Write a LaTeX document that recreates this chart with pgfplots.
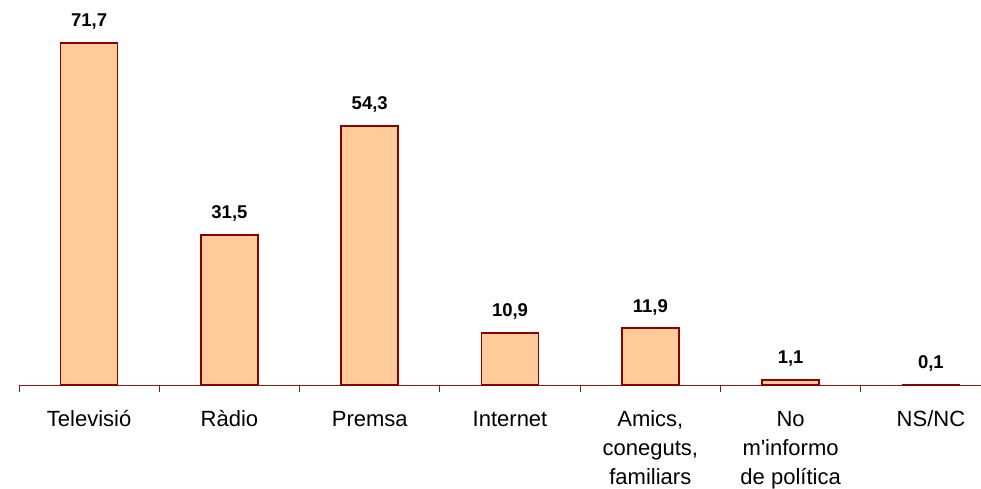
\documentclass[border=0pt]{standalone}
\usepackage{pgfplots}
\pgfplotsset{compat=1.18}
\usepackage{fontspec}
\setmainfont{Liberation Sans}
\definecolor{barfill}{HTML}{FFCC99}
\definecolor{barline}{HTML}{8B0000}
\definecolor{axisred}{HTML}{8B1A1A}
\begin{document}
\begin{tikzpicture}
\begin{axis}[
  scale only axis,
  width=962pt, height=385pt,
  xmin=-0.5, xmax=6.357,
  ymin=0, ymax=80.7,
  axis x line*=bottom,
  axis y line=none,
  x axis line style={axisred, line width=1pt},
  xtick={0,...,6},
  xticklabels={Televisió, Ràdio, Premsa, Internet, {Amics,\\coneguts,\\familiars}, {No\\m\textquotesingle informo\\de política}, NS/NC},
  major tick length=0pt,
  minor xtick={-0.5,0.5,...,6.5},
  minor tick length=7pt,
  tick align=outside,
  minor tick style={axisred, line width=1pt},
  typeset ticklabels with strut,
  xticklabel style={font=\fontsize{22}{29}\selectfont, align=center, anchor=north, inner sep=0pt, yshift=-21pt},
  ybar, bar width=57pt,
  clip=false,
  nodes near coords={\pgfmathprintnumber[fixed,fixed zerofill,precision=1,use comma,assume math mode=true]{\pgfplotspointmeta}},
  every node near coord/.append style={font=\fontsize{18.5}{22}\selectfont\bfseries, anchor=base, inner sep=0pt, yshift=16pt},
]
\coordinate (o) at (rel axis cs:0,0);
\addplot[fill=barfill, draw=barline, line width=1.6pt] coordinates {
  (0,71.7) (1,31.5) (2,54.3) (3,10.9) (4,11.9) (5,1.1) (6,0.1)
};
\end{axis}
\pgfresetboundingbox
\path[use as bounding box] (o) ++(-19pt,-104pt) rectangle ++(981pt,489pt);
\end{tikzpicture}
\end{document}
